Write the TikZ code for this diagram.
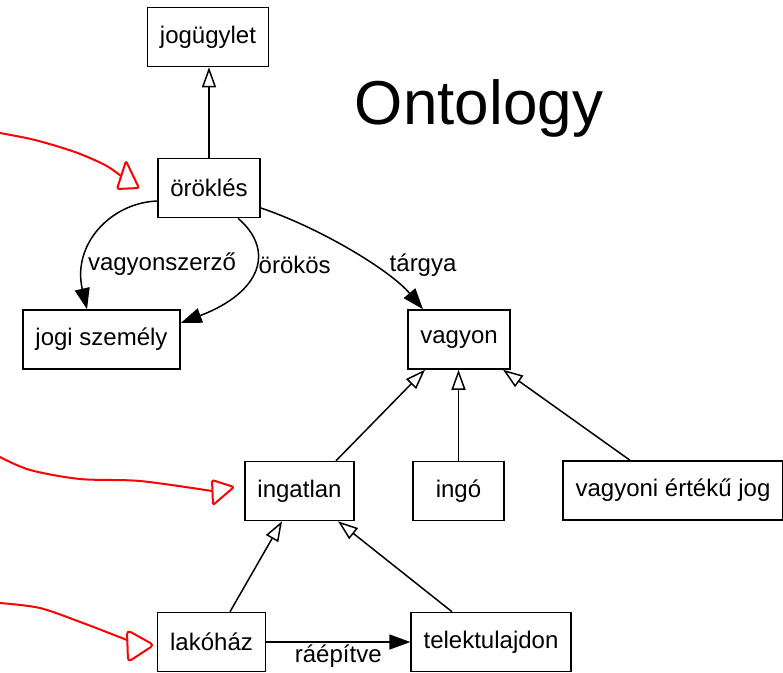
\documentclass[tikz,border=0pt]{standalone}
\usepackage{fontspec}
\setmainfont{Liberation Sans}
\usepackage{tikz}
\usetikzlibrary{arrows.meta}

\begin{document}
\begin{tikzpicture}[
    x=1pt, y=-1pt,
    box/.style={rectangle, draw=black, line width=1.5pt,
                minimum width=91pt, minimum height=59pt, inner xsep=12.5pt,
                font=\fontsize{24}{28}\selectfont, align=center},
    isa/.style={-{Triangle[open, length=20pt, width=14pt]}, line width=1.5pt},
    rel/.style={-{Triangle[length=21pt, width=15pt]}, line width=1.5pt},
    lbl/.style={font=\fontsize{24}{28}\selectfont, inner sep=2pt},
    pen/.style={red, line width=2pt, line cap=round, line join=round}
]
\useasboundingbox (0,0) rectangle (783,672);

\node[box] (jog)      at (208,37)      {jogügylet};
\node[box] (orok)     at (209,188)     {öröklés};
\node[box] (szem)     at (101.5,339.5) {jogi személy};
\node[box] (vagy)     at (459,339.5)   {vagyon};
\node[box] (ingatlan) at (299.5,491)   {ingatlan};
\node[box] (ingo)     at (458.5,491)   {ingó};
\node[box] (vej)      at (673,490.5)   {vagyoni értékű jog};
\node[box] (lak)      at (211.5,642)   {lakóház};
\node[box] (telek)    at (491,642)     {telektulajdon};

\node[anchor=base, font=\fontsize{62}{70}\selectfont] (title) at (479,124) {Ontology};

\draw[isa] (orok.north) -- (orok.north |- jog.south);
\draw[isa] ([xshift=36.5pt]ingatlan.north) -- ([xshift=-34pt]vagy.south);
\draw[isa] (ingo.north) -- (ingo.north |- vagy.south);
\draw[isa] ([xshift=-43pt]vej.north) -- ([xshift=44pt]vagy.south);
\draw[isa] ([xshift=18.5pt]lak.north) -- ([xshift=-17.5pt]ingatlan.south);
\draw[isa] ([xshift=-39pt]telek.north) -- ([xshift=38.5pt]ingatlan.south);

\draw[rel] ([yshift=-13pt]orok.west) .. controls (110,203) and (72,245) ..
    ([xshift=-14.5pt]szem.north) node[lbl, pos=0.74, anchor=west] {vagyonszerző};
\draw[rel] ([xshift=29pt]orok.south) .. controls (275,250) and (262,292) ..
    ([yshift=16.5pt]szem.east) node[lbl, pos=0.45, anchor=west] {örökös};
\draw[rel] ([yshift=-20pt]orok.east) .. controls (320,228) and (390,270) ..
    ([xshift=-36pt]vagy.north) node[lbl, pos=0.62, anchor=west, xshift=15pt] {tárgya};
\draw[rel] (lak) -- node[lbl, below] {ráépítve} (telek);

\draw[pen] plot[smooth] coordinates {(0,133) (35,140) (75,152) (105,165) (121,176)};
\draw[pen, rounded corners=2pt] (126,161) -- (117,189) -- (139,188) -- cycle;
\draw[pen] plot[smooth] coordinates {(0,457) (30,470) (80,479) (140,481) (212,491)};
\draw[pen, rounded corners=2pt] (212,480) -- (213,505) -- (234,487) -- cycle;
\draw[pen] plot[smooth] coordinates {(0,603) (40,608) (83,623) (127,640)};
\draw[pen, rounded corners=4pt] (127,630) -- (128,662) -- (154,645) -- cycle;
\end{tikzpicture}
\end{document}
